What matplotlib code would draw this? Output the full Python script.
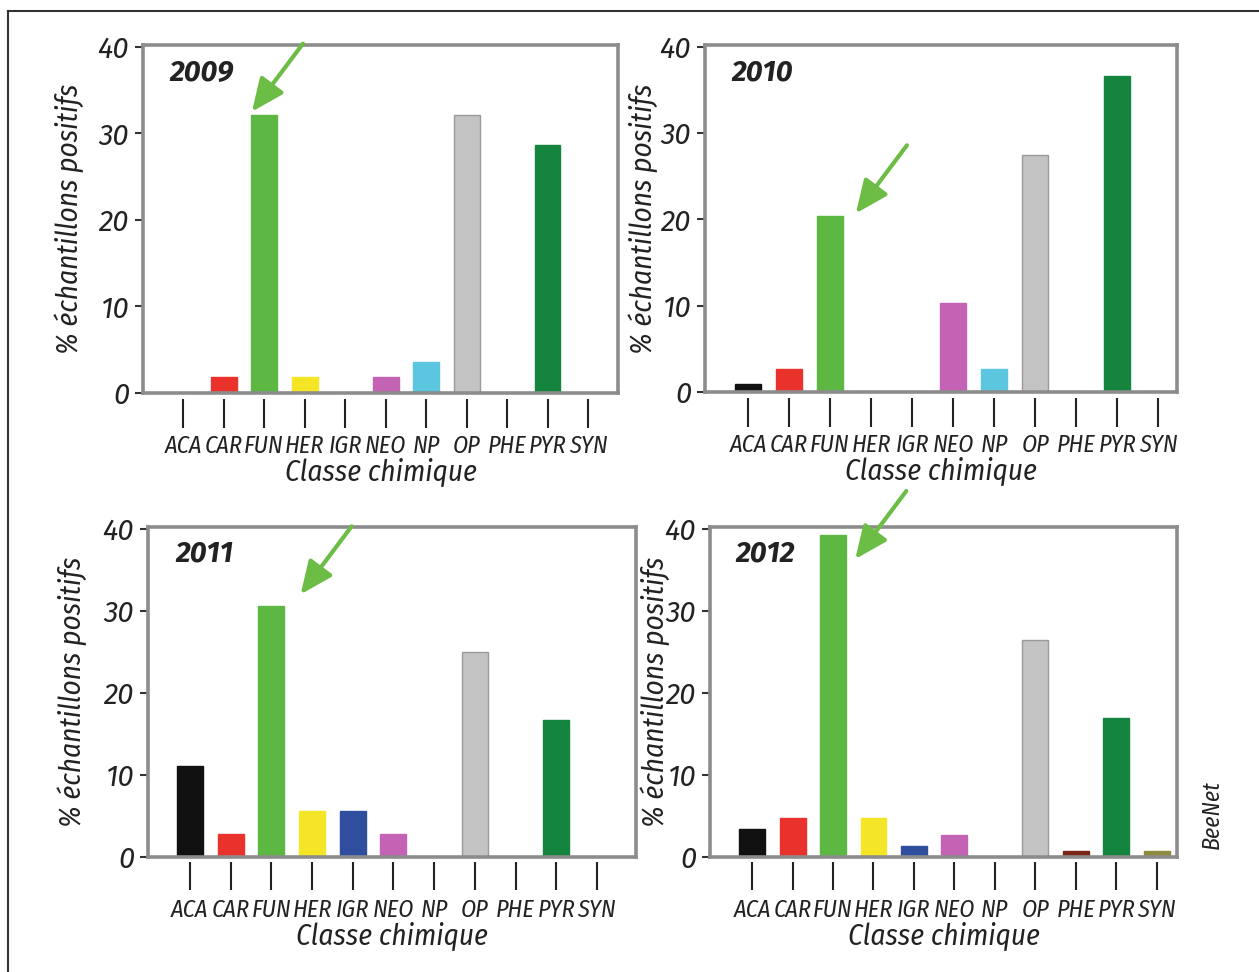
import matplotlib
matplotlib.use('Agg')
import matplotlib.pyplot as plt
from matplotlib.lines import Line2D

# données : % d'échantillons positifs par classe chimique
classes = ['ACA', 'CAR', 'FUN', 'HER', 'IGR', 'NEO', 'NP', 'OP', 'PHE', 'PYR', 'SYN']
bar_colors = ['#111111', '#e8322b', '#5cb843', '#f4e626', '#2f4f9e', '#c462b4',
              '#5cc6e0', '#c3c3c3', '#7a2516', '#14843f', '#8c8a3c']
years = ['2009', '2010', '2011', '2012']
pct_2009 = [0, 1.8, 32.1, 1.8, 0, 1.8, 3.6, 32.1, 0, 28.6, 0]
pct_2010 = [0.9, 2.7, 20.4, 0, 0, 10.3, 2.7, 27.4, 0, 36.6, 0]
pct_2011 = [11.1, 2.8, 30.6, 5.6, 5.6, 2.8, 0, 25.0, 0, 16.7, 0]
pct_2012 = [3.4, 4.7, 39.2, 4.7, 1.4, 2.7, 0, 26.4, 0.7, 16.9, 0.7]
yticks = [0, 10, 20, 30, 40]

W, H = 1259, 972
narrow = ['Fira Sans Condensed', 'DejaVu Sans']
wide = ['Fira Sans', 'DejaVu Sans']
txt_col = '#222222'
spine_col = '#8c8c8c'
arrow_col = '#6cbd45'

fig = plt.figure(figsize=(W / 100, H / 100), dpi=100)

# cadre extérieur
fig.add_artist(Line2D([8 / W, 8 / W], [0, 1 - 11 / H], color='#333333', lw=1.5))
fig.add_artist(Line2D([8 / W, 1], [1 - 11 / H, 1 - 11 / H], color='#333333', lw=1.5))

# (gauche, haut, droite, bas) en pixels, xlim, position ylabel, pointe de flèche
layout = [
    ((143, 45, 618, 393), (-0.99, 10.74), -0.125, (-0.3, 0.4)),
    ((705, 45, 1177, 392), (-1.05, 10.46), -0.100, (0.63, 0.3)),
    ((148, 527, 636, 857), (-1.03, 10.96), -0.125, (0.72, 1.4)),
    ((710, 527, 1177, 857), (-1.04, 10.50), -0.085, (0.55, -2.9)),
]
series = [pct_2009, pct_2010, pct_2011, pct_2012]

for year, values, (box, xlim, ylab_x, head) in zip(years, series, layout):
    l, t, r, b = box
    ax = fig.add_axes([l / W, 1 - b / H, (r - l) / W, (b - t) / H])
    x = list(range(len(classes)))
    edges = ['#9a9a9a' if c == '#c3c3c3' else c for c in bar_colors]
    ax.bar(x, values, width=0.64, color=bar_colors, edgecolor=edges, linewidth=1)

    ax.set_xlim(*xlim)
    ax.set_ylim(0, 40.2)
    for s in ax.spines.values():
        s.set_color(spine_col)
        s.set_linewidth(2.6)

    ax.set_yticks(yticks)
    ax.set_yticklabels([str(v) for v in yticks], fontfamily=wide,
                       fontstyle='italic', fontsize=21, color=txt_col)
    ax.tick_params(axis='y', length=6, width=1.5, color='#333333', pad=4)

    ax.set_xticks(x)
    ax.set_xticklabels(classes, fontfamily=narrow, fontstyle='italic',
                       fontsize=17.5, color=txt_col)
    ax.tick_params(axis='x', length=0, pad=30)
    # traits de graduation détachés de l'axe
    ax.vlines(x, -0.10, -0.016, transform=ax.get_xaxis_transform(),
              colors=txt_col, lw=1.5, clip_on=False)

    ax.set_xlabel('Classe chimique', fontfamily=narrow, fontstyle='italic',
                  fontsize=21, color=txt_col, labelpad=0)
    ax.set_ylabel('% échantillons positifs', fontfamily=narrow,
                  fontstyle='italic', fontsize=21, color=txt_col)
    ax.yaxis.set_label_coords(ylab_x, 0.5)

    ax.text(0.055, 0.92, year, transform=ax.transAxes, fontsize=21,
            fontfamily=wide, fontweight='bold', fontstyle='italic',
            color=txt_col, ha='left', va='center')

    fun = classes.index('FUN')
    ax.annotate('', xy=(fun + head[0], values[fun] + head[1]),
                xytext=(51, 68), textcoords='offset pixels',
                annotation_clip=False,
                arrowprops=dict(arrowstyle='-|>,head_length=0.5,head_width=0.22',
                                mutation_scale=40, color=arrow_col, lw=3,
                                shrinkA=0, shrinkB=0))

fig.text(1212 / W, 1 - 815 / H, 'BeeNet', rotation=90, fontfamily=narrow,
         fontstyle='italic', fontsize=17, color=txt_col, ha='center', va='center')

fig.savefig('out.png', dpi=100)
